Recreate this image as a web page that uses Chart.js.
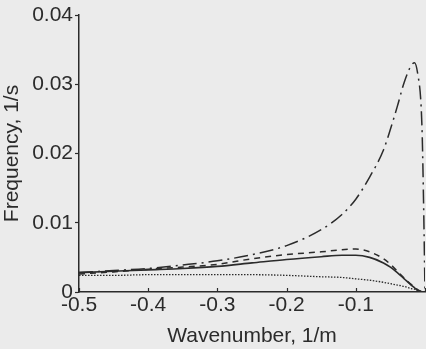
<!DOCTYPE html>
<html>
<head>
<meta charset="utf-8">
<script src="https://cdn.jsdelivr.net/npm/chart.js@4"></script>
<style>
  html, body { margin: 0; padding: 0; background: #ebebeb; overflow: hidden; }
  canvas { display: block; }
</style>
</head>
<body>
<canvas id="disp" width="426" height="349"></canvas>
<script>
// wavenumber samples, 1/m (dense near zero where the curves turn)
const waveK = [-0.5, -0.45, -0.4, -0.35, -0.3, -0.25, -0.2, -0.15, -0.12, -0.1,
               -0.08, -0.06, -0.05, -0.04, -0.03, -0.02, -0.015, -0.01, -0.006, -0.004, -0.002, 0];

// frequency, 1/s
const freqDashDot = [0.0028, 0.0031, 0.0034, 0.0039, 0.0045, 0.0054, 0.0067, 0.0090, 0.0112, 0.0134,
                     0.0166, 0.0205, 0.0235, 0.0268, 0.0303, 0.0327, 0.0331, 0.0312, 0.0275, 0.0225, 0.0125, 0];
const freqSolid   = [0.0028, 0.0030, 0.0032, 0.0034, 0.0037, 0.0042, 0.0047, 0.0051, 0.0053, 0.0053,
                     0.0050, 0.0042, 0.0036, 0.0028, 0.0019, 0.0010, 0.0006, 0.0002, 0.00005, 0.00002, 0.00001, 0];
const freqDashed  = [0.0026, 0.0029, 0.0033, 0.0036, 0.0040, 0.0048, 0.0054, 0.0058, 0.0061, 0.0062,
                     0.0058, 0.0048, 0.0040, 0.0030, 0.0020, 0.0011, 0.0007, 0.0003, 0.0001, 0.00004, 0.00002, 0];
const freqDotted  = [0.0024, 0.0024, 0.0025, 0.0025, 0.0025, 0.0025, 0.0024, 0.0022, 0.0021, 0.0019,
                     0.0017, 0.0014, 0.0012, 0.0010, 0.0008, 0.0005, 0.0004, 0.0002, 0.0001, 0.00006, 0.00003, 0];

const xTicks = [-0.5, -0.4, -0.3, -0.2, -0.1, 0];
const yTicks = [0, 0.01, 0.02, 0.03, 0.04];

const ink = '#2b2b2b';
const fontFam = '"Liberation Sans", Arial, sans-serif';

function pts(vals) {
    return waveK.map((k, i) => ({ x: k, y: vals[i] }));
}

function line(vals, dash, width) {
    return {
        data: pts(vals),
        borderColor: ink,
        borderWidth: width,
        borderDash: dash,
        pointRadius: 0,
        cubicInterpolationMode: 'monotone',
        fill: false
    };
}

// paper background + inward x ticks
const paper = {
    id: 'paper',
    beforeDraw(chart) {
        const c = chart.ctx;
        c.save();
        c.fillStyle = '#ebebeb';
        c.fillRect(0, 0, chart.width, chart.height);
        c.restore();
    },
    afterDraw(chart) {
        const c = chart.ctx, xs = chart.scales.x, bottom = chart.chartArea.bottom;
        c.save();
        c.strokeStyle = ink;
        c.lineWidth = 1.2;
        xTicks.forEach(v => {
            const px = Math.round(xs.getPixelForValue(v)) + 0.5;
            c.beginPath();
            c.moveTo(px, bottom);
            c.lineTo(px, bottom - 4);
            c.stroke();
        });
        c.restore();
    }
};

new Chart(document.getElementById('disp'), {
    type: 'line',
    data: {
        datasets: [
            line(freqDashDot, [14, 5, 2, 5], 1.5),
            line(freqDashed, [6, 5], 1.5),
            line(freqSolid, [], 1.6),
            line(freqDotted, [1.5, 1.5], 1.3)
        ]
    },
    options: {
        responsive: false,
        animation: false,
        layout: { padding: { left: 0, right: 1, top: 15, bottom: 0 } },
        plugins: { legend: { display: false }, tooltip: { enabled: false } },
        scales: {
            x: {
                type: 'linear',
                min: -0.5,
                max: 0,
                afterBuildTicks: (s) => { s.ticks = xTicks.map(v => ({ value: v })); },
                afterFit: (s) => { s.height = 57; },
                grid: { display: true, drawOnChartArea: false, drawTicks: false },
                border: { color: ink, width: 1.5 },
                ticks: {
                    color: ink,
                    padding: 1,
                    maxRotation: 0,
                    font: { family: fontFam, size: 21 },
                    callback: (v) => v === 0 ? '' : v.toFixed(1)
                },
                title: {
                    display: true,
                    text: 'Wavenumber, 1/m',
                    color: ink,
                    padding: { top: 0, bottom: 0 },
                    font: { family: fontFam, size: 21 }
                }
            },
            y: {
                min: 0,
                max: 0.04,
                afterBuildTicks: (s) => { s.ticks = yTicks.map(v => ({ value: v })); },
                afterFit: (s) => { s.width = 79; },
                grid: { drawOnChartArea: false, tickLength: 4, color: ink, tickWidth: 1.2 },
                border: { color: ink, width: 1.5 },
                ticks: {
                    color: ink,
                    padding: 2,
                    font: { family: fontFam, size: 21 },
                    callback: (v) => v === 0 ? '0' : v.toFixed(2)
                },
                title: {
                    display: true,
                    text: 'Frequency, 1/s',
                    color: ink,
                    padding: { top: 0, bottom: 0 },
                    font: { family: fontFam, size: 21 }
                }
            }
        }
    },
    plugins: [paper]
});
</script>
</body>
</html>
